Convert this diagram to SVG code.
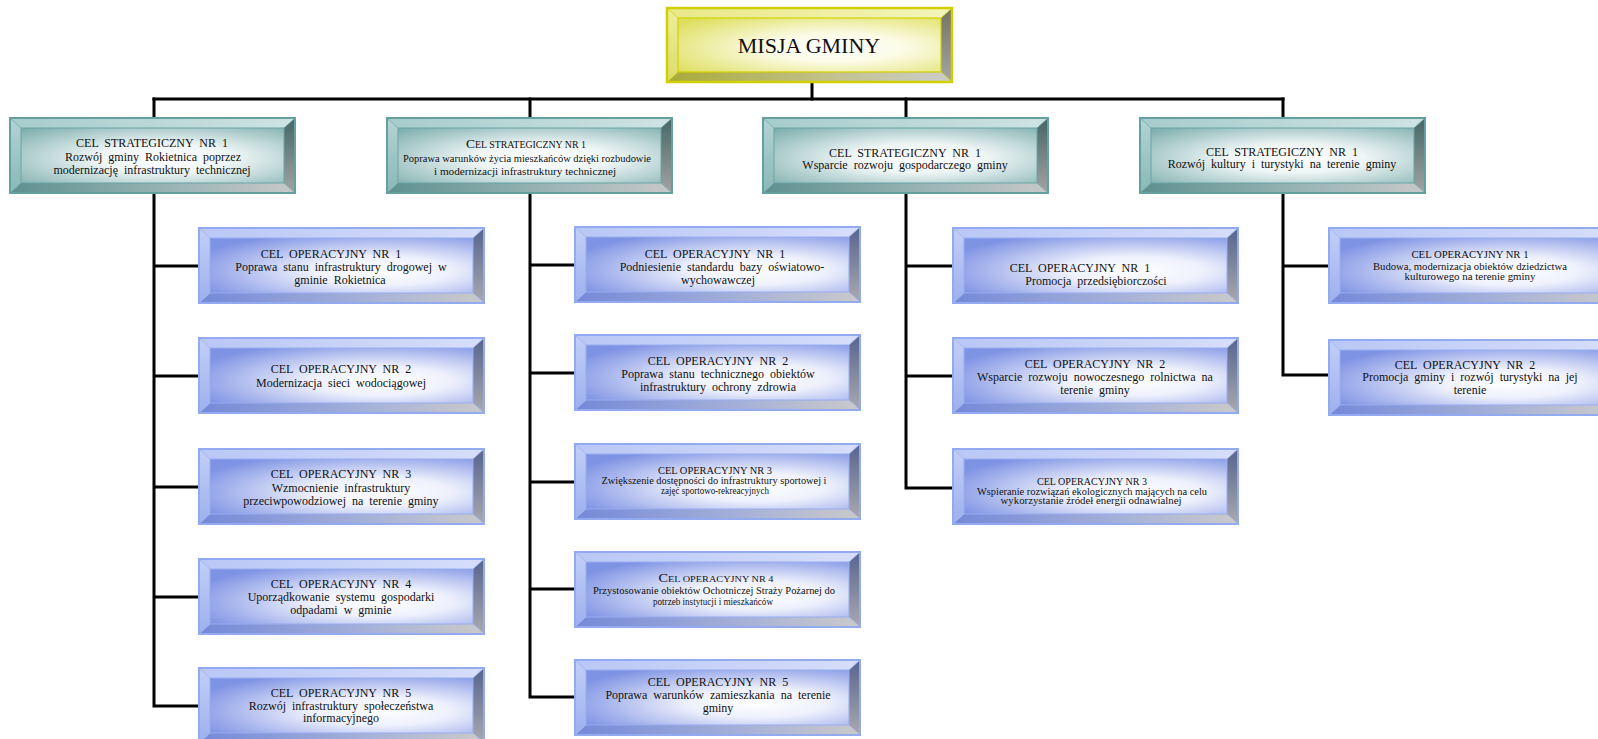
<svg xmlns="http://www.w3.org/2000/svg" xmlns:xlink="http://www.w3.org/1999/xlink" width="1598" height="739" viewBox="0 0 1598 739">
<defs>
<style>
text{font-family:"Liberation Serif","Times New Roman",serif;fill:#111;text-anchor:middle}
.t12{font-size:12px;word-spacing:3px}
.t9{font-size:9.5px}
.big{font-size:22px}
.conn{stroke:#000;stroke-width:3;fill:none;stroke-linecap:square}
</style>
<!-- op (blue) gradients -->
<radialGradient id="gOpC" cx="0.65" cy="0.6" r="0.75">
<stop offset="0" stop-color="#ffffff"/><stop offset="0.35" stop-color="#eef1fc"/><stop offset="1" stop-color="#7f93e4"/>
</radialGradient>
<linearGradient id="gOpT" x1="0" y1="0" x2="1" y2="0"><stop offset="0" stop-color="#b9c7f5"/><stop offset="1" stop-color="#d6defa"/></linearGradient>
<linearGradient id="gOpL" x1="0" y1="0" x2="0" y2="1"><stop offset="0" stop-color="#c2cff7"/><stop offset="1" stop-color="#9db0ee"/></linearGradient>
<linearGradient id="gOpR" x1="0" y1="0" x2="0" y2="1"><stop offset="0" stop-color="#56648e"/><stop offset="1" stop-color="#a9a9b0"/></linearGradient>
<linearGradient id="gOpB" x1="0" y1="0" x2="1" y2="0"><stop offset="0" stop-color="#7489d8"/><stop offset="0.6" stop-color="#a7b2d8"/><stop offset="1" stop-color="#cacaca"/></linearGradient>
<!-- strategic (teal) -->
<radialGradient id="gStC" cx="0.55" cy="0.55" r="0.75">
<stop offset="0" stop-color="#ffffff"/><stop offset="0.35" stop-color="#eef5f5"/><stop offset="1" stop-color="#7eaeae"/>
</radialGradient>
<linearGradient id="gStT" x1="0" y1="0" x2="1" y2="0"><stop offset="0" stop-color="#a6cccc"/><stop offset="1" stop-color="#cfe3e3"/></linearGradient>
<linearGradient id="gStL" x1="0" y1="0" x2="0" y2="1"><stop offset="0" stop-color="#b3d3d3"/><stop offset="1" stop-color="#8ab8b8"/></linearGradient>
<linearGradient id="gStR" x1="0" y1="0" x2="0" y2="1"><stop offset="0" stop-color="#466666"/><stop offset="1" stop-color="#a3a3a3"/></linearGradient>
<linearGradient id="gStB" x1="0" y1="0" x2="1" y2="0"><stop offset="0" stop-color="#5e9090"/><stop offset="0.6" stop-color="#9db6b6"/><stop offset="1" stop-color="#c8c8c8"/></linearGradient>
<!-- mission (yellow) -->
<radialGradient id="gMC" cx="0.6" cy="0.55" r="0.75">
<stop offset="0" stop-color="#ffffff"/><stop offset="0.35" stop-color="#fbfbe6"/><stop offset="1" stop-color="#dede5c"/>
</radialGradient>
<linearGradient id="gMT" x1="0" y1="0" x2="1" y2="0"><stop offset="0" stop-color="#e8e888"/><stop offset="1" stop-color="#f4f4bc"/></linearGradient>
<linearGradient id="gML" x1="0" y1="0" x2="0" y2="1"><stop offset="0" stop-color="#eeee9c"/><stop offset="1" stop-color="#dcdc6a"/></linearGradient>
<linearGradient id="gMR" x1="0" y1="0" x2="0" y2="1"><stop offset="0" stop-color="#737360"/><stop offset="1" stop-color="#a5a5a5"/></linearGradient>
<linearGradient id="gMB" x1="0" y1="0" x2="1" y2="0"><stop offset="0" stop-color="#aaaa3a"/><stop offset="0.6" stop-color="#c2c292"/><stop offset="1" stop-color="#cccccc"/></linearGradient>

<g id="bxOp">
<polygon points="0,0 285,0 274,10 11,10" fill="url(#gOpT)"/>
<polygon points="0,0 11,10 11,65 0,75" fill="url(#gOpL)"/>
<polygon points="285,0 285,75 274,65 274,10" fill="url(#gOpR)"/>
<polygon points="0,75 11,65 274,65 285,75" fill="url(#gOpB)"/>
<rect x="11" y="10" width="263" height="55" fill="url(#gOpC)" stroke="#98adf0" stroke-width="1"/>
<path d="M0,0 L11,10 M285,0 L274,10 M0,75 L11,65 M285,75 L274,65" stroke="#98adf0" stroke-width="0.8"/>
<rect x="0" y="0" width="285" height="75" fill="none" stroke="#93a9f0" stroke-width="2"/>
</g>
<g id="bxSt">
<polygon points="0,0 285,0 274,10 11,10" fill="url(#gStT)"/>
<polygon points="0,0 11,10 11,65 0,75" fill="url(#gStL)"/>
<polygon points="285,0 285,75 274,65 274,10" fill="url(#gStR)"/>
<polygon points="0,75 11,65 274,65 285,75" fill="url(#gStB)"/>
<rect x="11" y="10" width="263" height="55" fill="url(#gStC)" stroke="#6aa4a4" stroke-width="1"/>
<path d="M0,0 L11,10 M285,0 L274,10 M0,75 L11,65 M285,75 L274,65" stroke="#6aa4a4" stroke-width="0.8"/>
<rect x="0" y="0" width="285" height="75" fill="none" stroke="#64a0a0" stroke-width="2"/>
</g>
<g id="bxM">
<polygon points="0,0 285,0 274,10 11,10" fill="url(#gMT)"/>
<polygon points="0,0 11,10 11,64 0,74" fill="url(#gML)"/>
<polygon points="285,0 285,74 274,64 274,10" fill="url(#gMR)"/>
<polygon points="0,74 11,64 274,64 285,74" fill="url(#gMB)"/>
<rect x="11" y="10" width="263" height="54" fill="url(#gMC)" stroke="#d2d200" stroke-width="1.2"/>
<path d="M0,0 L11,10 M285,0 L274,10 M0,74 L11,64 M285,74 L274,64" stroke="#d2d200" stroke-width="0.8"/>
<rect x="0" y="0" width="285" height="74" fill="none" stroke="#d0d000" stroke-width="2.5"/>
</g>
</defs>

<rect width="1598" height="739" fill="#ffffff"/>

<g id="connectors">
<path class="conn" d="M812,82 V99"/>
<path class="conn" d="M154,99 H1283"/>
<path class="conn" d="M154,99 V118 M530,99 V118 M906,99 V118 M1283,99 V118"/>
<path class="conn" d="M154,193 V706 M154,266 H199 M154,376 H199 M154,487 H199 M154,597 H199 M154,706 H199"/>
<path class="conn" d="M530,193 V697 M530,265 H575 M530,373 H575 M530,482 H575 M530,589 H575 M530,697 H575"/>
<path class="conn" d="M906,193 V488 M906,266 H953 M906,376 H953 M906,488 H953"/>
<path class="conn" d="M1283,193 V375 M1283,266 H1329 M1283,375 H1329"/>
</g>

<g id="misja">
<use xlink:href="#bxM" href="#bxM" x="667" y="8"/>
<text class="big" x="809" y="53">MISJA GMINY</text>
</g>

<g id="strat1">
<use href="#bxSt" x="10" y="118"/>
<text class="t12" x="152" y="147">CEL STRATEGICZNY NR 1</text>
<text class="t12" x="153" y="161" word-spacing="5">Rozwój gminy Rokietnica poprzez</text>
<text class="t12" x="152" y="174" word-spacing="7">modernizację infrastruktury technicznej</text>
</g>
<g id="strat2">
<use href="#bxSt" x="387" y="118"/>
<text x="526" y="148" textLength="120" lengthAdjust="spacingAndGlyphs"><tspan font-size="13">C</tspan><tspan font-size="9.5">EL STRATEGICZNY NR 1</tspan></text>
<text class="t9" x="527" y="162" textLength="248" lengthAdjust="spacingAndGlyphs">Poprawa warunków życia mieszkańców dzięki rozbudowie</text>
<text class="t9" x="525" y="175" textLength="182" lengthAdjust="spacingAndGlyphs">i modernizacji infrastruktury technicznej</text>
</g>
<g id="strat3">
<use href="#bxSt" x="763" y="118"/>
<text class="t12" x="905" y="157">CEL STRATEGICZNY NR 1</text>
<text class="t12" x="905" y="169">Wsparcie rozwoju gospodarczego gminy</text>
</g>
<g id="strat4">
<use href="#bxSt" x="1140" y="118"/>
<text class="t12" x="1282" y="156">CEL STRATEGICZNY NR 1</text>
<text class="t12" x="1282" y="168">Rozwój kultury i turystyki na terenie gminy</text>
</g>

<g id="op1-1">
<use href="#bxOp" x="199" y="228"/>
<text class="t12" x="331" y="258">CEL OPERACYJNY NR 1</text>
<text class="t12" x="341" y="271">Poprawa stanu infrastruktury drogowej w</text>
<text class="t12" x="340" y="284">gminie Rokietnica</text>
</g>
<g id="op1-2">
<use href="#bxOp" x="199" y="338"/>
<text class="t12" x="341" y="373">CEL OPERACYJNY NR 2</text>
<text class="t12" x="341" y="387">Modernizacja sieci wodociągowej</text>
</g>
<g id="op1-3">
<use href="#bxOp" x="199" y="449"/>
<text class="t12" x="341" y="478">CEL OPERACYJNY NR 3</text>
<text class="t12" x="341" y="492">Wzmocnienie infrastruktury</text>
<text class="t12" x="341" y="505">przeciwpowodziowej na terenie gminy</text>
</g>
<g id="op1-4">
<use href="#bxOp" x="199" y="559"/>
<text class="t12" x="341" y="588">CEL OPERACYJNY NR 4</text>
<text class="t12" x="341" y="601">Uporządkowanie systemu gospodarki</text>
<text class="t12" x="341" y="614">odpadami w gminie</text>
</g>
<g id="op1-5">
<use href="#bxOp" x="199" y="668"/>
<text class="t12" x="341" y="697">CEL OPERACYJNY NR 5</text>
<text class="t12" x="341" y="710">Rozwój infrastruktury społeczeństwa</text>
<text class="t12" x="341" y="722">informacyjnego</text>
</g>

<g id="op2-1">
<use href="#bxOp" x="575" y="227"/>
<text class="t12" x="715" y="258">CEL OPERACYJNY NR 1</text>
<text class="t12" x="722" y="271">Podniesienie standardu bazy oświatowo-</text>
<text class="t12" x="718" y="284">wychowawczej</text>
</g>
<g id="op2-2">
<use href="#bxOp" x="575" y="335"/>
<text class="t12" x="718" y="365">CEL OPERACYJNY NR 2</text>
<text class="t12" x="718" y="378">Poprawa stanu technicznego obiektów</text>
<text class="t12" x="718" y="391">infrastruktury ochrony zdrowia</text>
</g>
<g id="op2-3">
<use href="#bxOp" x="575" y="444"/>
<text class="t9" x="715" y="474" textLength="114" lengthAdjust="spacingAndGlyphs">CEL OPERACYJNY NR 3</text>
<text class="t9" x="714" y="484" textLength="225" lengthAdjust="spacingAndGlyphs">Zwiększenie dostępności do infrastruktury sportowej i</text>
<text class="t9" x="715" y="494" textLength="108" lengthAdjust="spacingAndGlyphs">zajęć sportowo-rekreacyjnych</text>
</g>
<g id="op2-4">
<use href="#bxOp" x="575" y="552"/>
<text x="716" y="582" textLength="115" lengthAdjust="spacingAndGlyphs"><tspan font-size="12.5">C</tspan><tspan font-size="9">EL OPERACYJNY NR 4</tspan></text>
<text class="t9" x="714" y="594" textLength="242" lengthAdjust="spacingAndGlyphs">Przystosowanie obiektów Ochotniczej Straży Pożarnej do</text>
<text class="t9" x="713" y="605" textLength="120" lengthAdjust="spacingAndGlyphs">potrzeb instytucji i mieszkańców</text>
</g>
<g id="op2-5">
<use href="#bxOp" x="575" y="660"/>
<text class="t12" x="718" y="686">CEL OPERACYJNY NR 5</text>
<text class="t12" x="718" y="699">Poprawa warunków zamieszkania na terenie</text>
<text class="t12" x="718" y="712">gminy</text>
</g>

<g id="op3-1">
<use href="#bxOp" x="953" y="228"/>
<text class="t12" x="1080" y="272">CEL OPERACYJNY NR 1</text>
<text class="t12" x="1096" y="285">Promocja przedsiębiorczości</text>
</g>
<g id="op3-2">
<use href="#bxOp" x="953" y="338"/>
<text class="t12" x="1095" y="368">CEL OPERACYJNY NR 2</text>
<text class="t12" x="1095" y="381">Wsparcie rozwoju nowoczesnego rolnictwa na</text>
<text class="t12" x="1095" y="394">terenie gminy</text>
</g>
<g id="op3-3">
<use href="#bxOp" x="953" y="449"/>
<text class="t9" x="1092" y="485" textLength="110" lengthAdjust="spacingAndGlyphs">CEL OPERACYJNY NR 3</text>
<text class="t9" x="1092" y="495" textLength="230" lengthAdjust="spacingAndGlyphs">Wspieranie rozwiązań ekologicznych mających na celu</text>
<text class="t9" x="1091" y="504" textLength="181" lengthAdjust="spacingAndGlyphs">wykorzystanie źródeł energii odnawialnej</text>
</g>

<g id="op4-1">
<use href="#bxOp" x="1329" y="228"/>
<text class="t9" x="1470" y="258" textLength="117" lengthAdjust="spacingAndGlyphs">CEL OPERACYJNY NR 1</text>
<text class="t9" x="1470" y="270" textLength="194" lengthAdjust="spacingAndGlyphs">Budowa, modernizacja obiektów dziedzictwa</text>
<text class="t9" x="1470" y="280" textLength="131" lengthAdjust="spacingAndGlyphs">kulturowego na terenie gminy</text>
</g>
<g id="op4-2">
<use href="#bxOp" x="1329" y="340"/>
<text class="t12" x="1465" y="369">CEL OPERACYJNY NR 2</text>
<text class="t12" x="1470" y="381">Promocja gminy i rozwój turystyki na jej</text>
<text class="t12" x="1470" y="394">terenie</text>
</g>
</svg>
